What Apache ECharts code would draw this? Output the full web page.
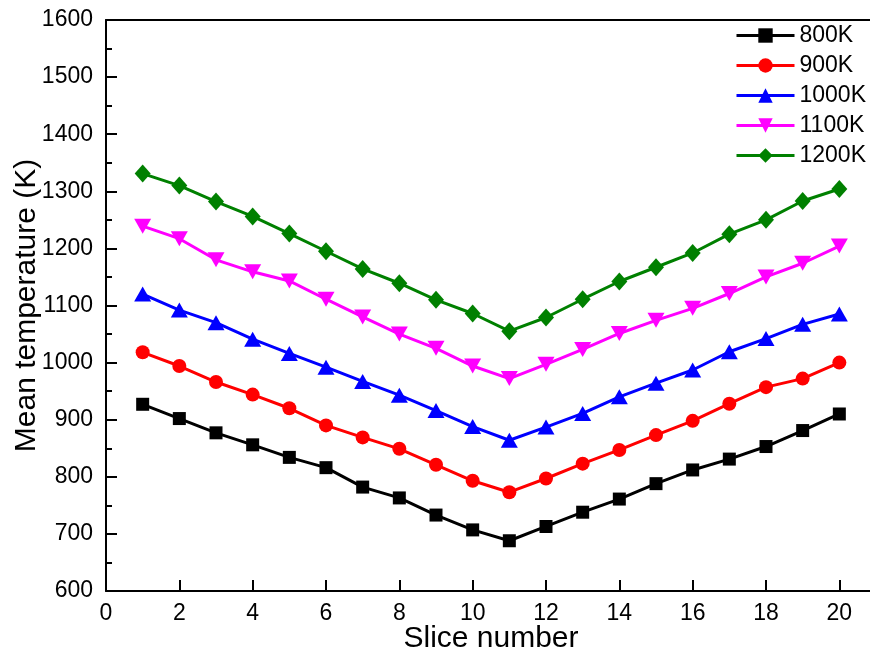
<!DOCTYPE html>
<html>
<head>
<meta charset="utf-8">
<script src="https://cdn.jsdelivr.net/npm/echarts@6/dist/echarts.min.js"></script>
<style>html,body{margin:0;padding:0;background:#fff;}#c{width:870px;height:657px;}</style>
</head>
<body>
<div id="c"></div>
<script>
const slices = [1,2,3,4,5,6,7,8,9,10,11,12,13,14,15,16,17,18,19,20];
const seriesNames = ['800K','900K','1000K','1100K','1200K'];
const t800  = [927,902,877,856,834,816,782,763,733,707,688,713,738,761,788,812,831,853,881,910];
const t900  = [1018,994,966,944,920,890,869,849,821,793,773,797,823,847,873,898,928,957,972,1000];
const t1000 = [1120,1092,1070,1041,1016,992,967,943,916,888,864,887,911,940,964,987,1019,1042,1067,1085];
const t1100 = [1239,1217,1180,1159,1143,1111,1080,1050,1025,994,972,997,1023,1051,1074,1095,1121,1150,1174,1204];
const t1200 = [1331,1310,1282,1256,1226,1195,1164,1139,1110,1086,1055,1079,1111,1142,1167,1192,1225,1250,1283,1304];
const xTicks = [0,2,4,6,8,10,12,14,16,18,20];
const yTicks = [600,700,800,900,1000,1100,1200,1300,1400,1500,1600];

const allData = [t800,t900,t1000,t1100,t1200];
const colors = ['#000000','#ff0000','#0000ff','#ff00ff','#008000'];
const symbols = ['rect','circle','triangle','triangle','diamond'];
const symSizes = [13,14,[17,15],[17,15],[16,18]];
const symRot = [0,0,0,180,0];

const chart = echarts.init(document.getElementById('c'), null, {renderer:'canvas'});
const font = 'Liberation Sans, Arial, sans-serif';
chart.setOption({
  backgroundColor:'#ffffff',
  animation:false,
  textStyle:{fontFamily:font},
  grid:{left:106, right:-6, top:20, bottom:66, containLabel:false, outerBoundsMode:'none'},
  legend:{
    data:seriesNames, orient:'vertical', left:735, top:24, padding:0,
    itemWidth:58, itemHeight:18, itemGap:7,
    lineStyle:{width:3},
    textStyle:{fontSize:23, color:'#000', fontFamily:font, padding:[0,0,0,0]}
  },
  xAxis:[{
    type:'value', min:0, max:21, interval:2, position:'bottom',
    name:'Slice number', nameLocation:'middle', nameGap:33, nameMoveOverlap:false,
    nameTextStyle:{fontSize:30, color:'#000', fontFamily:font},
    axisLine:{show:true, lineStyle:{color:'#000', width:2}},
    axisTick:{show:true, inside:true, length:11, lineStyle:{color:'#000', width:2}},
    axisLabel:{fontSize:23, color:'#000', margin:11, fontFamily:font,
      formatter:function(v){return xTicks.indexOf(v)>=0 ? String(v) : '';}},
    splitLine:{show:false}
  },{
    type:'value', min:0, max:21, position:'top',
    axisLine:{show:true, onZero:false, lineStyle:{color:'#000', width:2}},
    axisTick:{show:false}, axisLabel:{show:false}, splitLine:{show:false}
  }],
  yAxis:{
    type:'value', min:600, max:1600, interval:100,
    name:'Mean temperature (K)', nameLocation:'middle', nameGap:64, nameMoveOverlap:false,
    nameTextStyle:{fontSize:30, color:'#000', fontFamily:font},
    axisLine:{show:true, lineStyle:{color:'#000', width:2}},
    axisTick:{show:true, inside:true, length:11, lineStyle:{color:'#000', width:2}},
    minorTick:{show:true, splitNumber:2, length:6, lineStyle:{color:'#000', width:2}},
    axisLabel:{fontSize:23, color:'#000', margin:13, fontFamily:font,
      formatter:function(v){return yTicks.indexOf(v)>=0 ? String(v) : '';}},
    splitLine:{show:false}
  },
  series: seriesNames.map(function(n,i){
    return {
      name:n, type:'line', xAxisIndex:0,
      data: slices.map(function(s,j){return [s, allData[i][j]];}),
      symbol:symbols[i], symbolSize:symSizes[i], symbolRotate:symRot[i],
      showAllSymbol:true,
      lineStyle:{color:colors[i], width:3},
      itemStyle:{color:colors[i], borderWidth:0},
      z:2+i
    };
  })
});
</script>
</body>
</html>
